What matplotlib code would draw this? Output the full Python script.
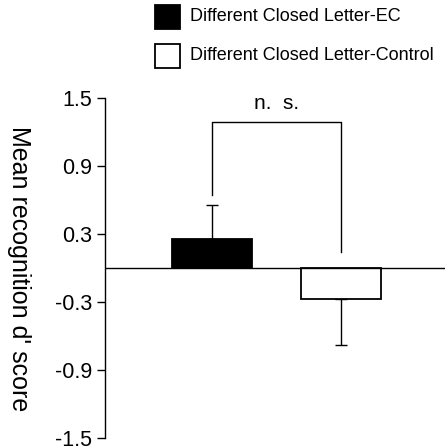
import matplotlib.pyplot as plt
from matplotlib.patches import Rectangle

plt.rcParams['font.family'] = ['Liberation Sans', 'DejaVu Sans']

#---------------- data
conditions = ["Different Closed Letter-EC", "Different Closed Letter-Control"]
means = [0.256, -0.271]
errors = [0.303, 0.406]      # one-sided, away from zero
colors = ["black", "white"]
yticks = [1.5, 0.9, 0.3, -0.3, -0.9, -1.5]
sig_label = "n.  s."

W, H = 445, 447
fig = plt.figure(figsize=(W / 100, H / 100), dpi=100)
ax_left = 105
ax = fig.add_axes([ax_left / W, 1 - 438.3 / H, (W - ax_left) / W, (438.3 - 98.3) / H])

x = [1, 2]
bars = ax.bar(x, means, width=0.62, color=colors, edgecolor="black", linewidth=1.3, zorder=3)

# error bars only on the side away from zero
lower = [0 if m > 0 else e for m, e in zip(means, errors)]
upper = [e if m > 0 else 0 for m, e in zip(means, errors)]
ax.errorbar(x, means, yerr=[lower, upper], fmt="none", ecolor="black",
            elinewidth=1, capsize=4, capthick=1, zorder=2)

ax.axhline(0, color="black", linewidth=1, zorder=4)

#---------------- significance bracket
top = 1.288
ax.plot([x[0], x[0], x[1], x[1]], [0.647, top, top, 0.147], color="black", linewidth=1)
ax.text((x[0] + x[1]) / 2, top + 0.08, sig_label, ha="center", va="bottom", fontsize=15)

ax.set_xlim(1 - (212 - ax_left) / 129, 2 + 104 / 129)
ax.set_ylim(-1.5, 1.5)
ax.set_yticks(yticks)
ax.set_yticklabels([f"{t:.1f}" for t in yticks], fontsize=15.5)
ax.tick_params(axis="y", length=5.8, width=1, pad=3.6)
ax.set_xticks([])
for s in ["top", "right", "bottom"]:
    ax.spines[s].set_visible(False)
ax.spines["left"].set_linewidth(1)
ax.set_ylabel("Mean recognition d' score", rotation=-90, fontsize=18, va="center")
ax.yaxis.set_label_coords(-(ax_left - 19) / (W - ax_left), 0.5)

#---------------- legend drawn at the top
for i, (lab, c) in enumerate(zip(conditions, colors)):
    yc = 16.7 + 39 * i
    fig.patches.append(Rectangle((155 / W, 1 - (yc + 12) / H), 24.5 / W, 24 / H,
                                 facecolor=c, edgecolor="black", linewidth=1.3,
                                 transform=fig.transFigure, figure=fig))
    fig.text(190 / W, 1 - yc / H, lab, ha="left", va="center", fontsize=13)

fig.savefig("out.png", dpi=100)
